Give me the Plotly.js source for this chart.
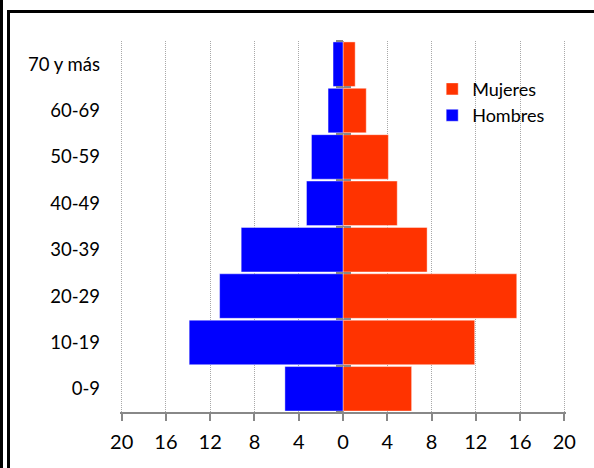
<!DOCTYPE html>
<html>
<head>
<meta charset="utf-8">
<script src="https://cdn.plot.ly/plotly-3.0.1.min.js"></script>
<style>
  html, body { margin: 0; padding: 0; background: #fff; }
  #wrap { position: relative; width: 594px; height: 468px; overflow: hidden; }
  #chart { position: absolute; left: 0; top: 0; width: 594px; height: 468px; }
  .frame { position: absolute; background: #000; pointer-events: none; }
</style>
</head>
<body>
<div id="wrap">
  <div id="chart"></div>
  <div class="frame" style="left:0;top:0;width:3px;height:468px;"></div>
  <div class="frame" style="left:7px;top:10px;width:3px;height:458px;"></div>
  <div class="frame" style="left:7px;top:10px;width:587px;height:3px;"></div>
</div>
<script>
// Data
const categories = ['0-9', '10-19', '20-29', '30-39', '40-49', '50-59', '60-69', '70 y más'];
const mujeres = [6.2, 11.9, 15.7, 7.6, 4.9, 4.1, 2.1, 1.1];
const hombres = [5.25, 13.9, 11.15, 9.2, 3.3, 2.85, 1.35, 0.9];
const xTickVals = [-20, -16, -12, -8, -4, 0, 4, 8, 12, 16, 20];
const xTickText = xTickVals.map(v => String(Math.abs(v)));

const boundaries = [-0.5].concat(categories.map((c, i) => i + 0.5));
const gray = '#888888';
const fontFam = 'Lato, "Open Sans", sans-serif';

const traces = [
  {
    type: 'bar', orientation: 'h', name: 'Mujeres',
    y: categories, x: mujeres,
    marker: { color: '#FF3300', line: { color: 'rgba(255,255,255,0.7)', width: 0.6 } },
    hoverinfo: 'skip'
  },
  {
    type: 'bar', orientation: 'h', name: 'Hombres',
    y: categories, x: hombres.map(v => -v),
    marker: { color: '#0000FF', line: { color: 'rgba(255,255,255,0.7)', width: 0.6 } },
    hoverinfo: 'skip'
  },
  // helper traces so the boundary-tick axes on the zero line are drawn
  { type: 'scatter', mode: 'none', x: [0], y: [0], yaxis: 'y2', showlegend: false, hoverinfo: 'skip' },
  { type: 'scatter', mode: 'none', x: [0], y: [0], yaxis: 'y3', showlegend: false, hoverinfo: 'skip' }
];

const layout = {
  width: 594, height: 468,
  margin: { l: 120, r: 28, t: 41, b: 56 },
  paper_bgcolor: '#fff', plot_bgcolor: '#fff',
  barmode: 'relative',
  bargap: 0.04,
  showlegend: true,
  legend: {
    x: 0.70, y: 0.92, xanchor: 'left', yanchor: 'top',
    font: { family: fontFam, size: 18, color: '#000' },
    bgcolor: 'rgba(255,255,255,0)',
    traceorder: 'normal', itemwidth: 30, tracegroupgap: 0
  },
  font: { family: fontFam, color: '#000' },
  xaxis: {
    range: [-20.15, 20.15],
    tickmode: 'array', tickvals: xTickVals, ticktext: xTickText,
    tickfont: { family: fontFam, size: 20, color: '#000' },
    ticklabelstandoff: 4,
    showgrid: true, gridcolor: '#a8a8a8', griddash: '1px,1px', gridwidth: 1,
    zeroline: true, zerolinecolor: gray, zerolinewidth: 2.5,
    showline: true, linecolor: gray, linewidth: 2,
    ticks: 'outside', ticklen: 7, tickwidth: 2, tickcolor: gray,
    fixedrange: true
  },
  yaxis: {
    type: 'category', categoryorder: 'array', categoryarray: categories,
    range: [-0.5, categories.length - 0.5],
    tickfont: { family: fontFam, size: 18.5, color: '#000' },
    showgrid: false, zeroline: false, showline: false, ticks: '',
    ticklabelstandoff: 19,
    fixedrange: true
  },
  yaxis2: {
    overlaying: 'y', anchor: 'free', position: 0.5, side: 'left',
    type: 'linear', range: [-0.5, categories.length - 0.5],
    tickmode: 'array', tickvals: boundaries,
    ticks: 'outside', ticklen: 7, tickwidth: 2, tickcolor: gray,
    showticklabels: false, showgrid: false, zeroline: false, showline: false,
    fixedrange: true
  },
  yaxis3: {
    overlaying: 'y', anchor: 'free', position: 0.5, side: 'left',
    type: 'linear', range: [-0.5, categories.length - 0.5],
    tickmode: 'array', tickvals: boundaries,
    ticks: 'inside', ticklen: 7, tickwidth: 2, tickcolor: gray,
    showticklabels: false, showgrid: false, zeroline: false, showline: false,
    fixedrange: true
  }
};

Plotly.newPlot('chart', traces, layout, { staticPlot: true, displayModeBar: false });
</script>
</body>
</html>
